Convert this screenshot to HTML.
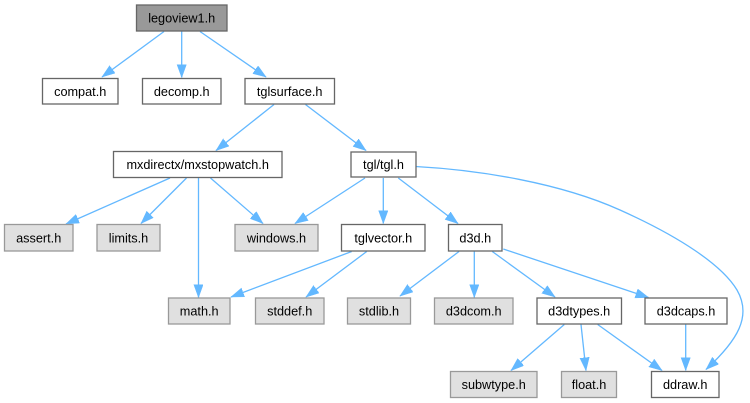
<!DOCTYPE html>
<html><head><meta charset="utf-8"><style>
html,body{margin:0;padding:0;background:#fff;}
svg{display:block;}
text{font-family:"Liberation Sans",Arial,sans-serif;font-size:12.7px;fill:#000;text-anchor:middle;}
.e{fill:none;stroke:#63b8ff;stroke-width:1.3;}
.w{fill:#fff;stroke:#666;stroke-width:1.3;}
.g{fill:#e0e0e0;stroke:#999;stroke-width:1.3;}
.r{fill:#999;stroke:#666;stroke-width:1.3;}
</style></head><body>
<svg width="750" height="403" viewBox="0 0 750 403" xmlns="http://www.w3.org/2000/svg">
<defs>
<marker id="a" markerUnits="userSpaceOnUse" markerWidth="14" markerHeight="10" refX="13" refY="4.7" orient="auto">
<path d="M0,0 L13,4.7 L0,9.4 z" fill="#63b8ff" stroke="#63b8ff" stroke-width="0.5"/>
</marker>
</defs>
<g marker-end="url(#a)">
<path class="e" d="M164,31.5 L102,77"/>
<path class="e" d="M181.7,31.5 L181.7,77.5"/>
<path class="e" d="M200,31.5 L266,77"/>
<path class="e" d="M274,104.5 L216,150.5"/>
<path class="e" d="M305.5,104.5 L366,150.5"/>
<path class="e" d="M170,178 L66,224"/>
<path class="e" d="M186.5,178 L141,223.5"/>
<path class="e" d="M198.5,178 L198.5,297.5"/>
<path class="e" d="M210.5,178 L263,223.5"/>
<path class="e" d="M365,178 L295,223.5"/>
<path class="e" d="M383.3,178 L383.3,223.5"/>
<path class="e" d="M398.3,178 L458,223.5"/>
<path class="e" d="M415.5,166.5 C480,170 560,183 620,210 C680,237 722,265 737,290 C752,316 738,340 706,369.5"/>
<path class="e" d="M351.7,251.5 L231,297"/>
<path class="e" d="M366.7,251.5 L306,297"/>
<path class="e" d="M459,251.5 L400,296"/>
<path class="e" d="M474.3,251.5 L474.3,297.5"/>
<path class="e" d="M492.3,251.5 L555,297"/>
<path class="e" d="M503.3,249 L648.5,297.5"/>
<path class="e" d="M564.3,324.5 L511,370.5"/>
<path class="e" d="M581,324.5 L586,370.5"/>
<path class="e" d="M597.7,324.5 L662,370.5"/>
<path class="e" d="M685.7,324.5 L685.7,370.5"/>
</g>

<rect class="r" x="136.5" y="5" width="90.5" height="26"/><text x="181.7" y="22.5">legoview1.h</text>
<rect class="w" x="42.5" y="78.5" width="75.5" height="25.5"/><text x="80.2" y="95.8">compat.h</text>
<rect class="w" x="142.5" y="78.5" width="78.5" height="25.5"/><text x="181.7" y="95.8">decomp.h</text>
<rect class="w" x="245" y="78.5" width="89.5" height="25.5"/><text x="289.7" y="95.8">tglsurface.h</text>
<rect class="w" x="113.5" y="151.5" width="168.5" height="26"/><text x="197.7" y="169">mxdirectx/mxstopwatch.h</text>
<rect class="w" x="351" y="152" width="65" height="25"/><text x="383.5" y="169">tgl/tgl.h</text>
<rect class="g" x="4.5" y="224.5" width="68.5" height="26.5"/><text x="38.7" y="242.3">assert.h</text>
<rect class="g" x="97" y="224.5" width="63" height="26.5"/><text x="128.5" y="242.3">limits.h</text>
<rect class="g" x="235" y="224.5" width="83" height="26.5"/><text x="276.5" y="242.3">windows.h</text>
<rect class="w" x="341.5" y="224.5" width="83.5" height="26.5"/><text x="383.3" y="242.3">tglvector.h</text>
<rect class="w" x="448.5" y="224.5" width="53.5" height="26.5"/><text x="475.3" y="242.3">d3d.h</text>
<rect class="g" x="168.5" y="298" width="61.5" height="26"/><text x="199.2" y="315.5">math.h</text>
<rect class="g" x="255.5" y="298" width="68.5" height="26"/><text x="289.7" y="315.5">stddef.h</text>
<rect class="g" x="347.5" y="298" width="63" height="26"/><text x="379" y="315.5">stdlib.h</text>
<rect class="g" x="434.5" y="298" width="78.5" height="26"/><text x="473.7" y="315.5">d3dcom.h</text>
<rect class="w" x="537" y="298" width="84.5" height="26"/><text x="579.2" y="315.5">d3dtypes.h</text>
<rect class="w" x="645" y="298" width="82" height="26"/><text x="686" y="315.5">d3dcaps.h</text>
<rect class="g" x="450.5" y="371.5" width="86.5" height="26"/><text x="493.7" y="389">subwtype.h</text>
<rect class="g" x="561.5" y="371.5" width="55" height="26"/><text x="589" y="389">float.h</text>
<rect class="w" x="651.5" y="371.5" width="67.5" height="26"/><text x="685.2" y="389">ddraw.h</text>
</svg>
</body></html>
